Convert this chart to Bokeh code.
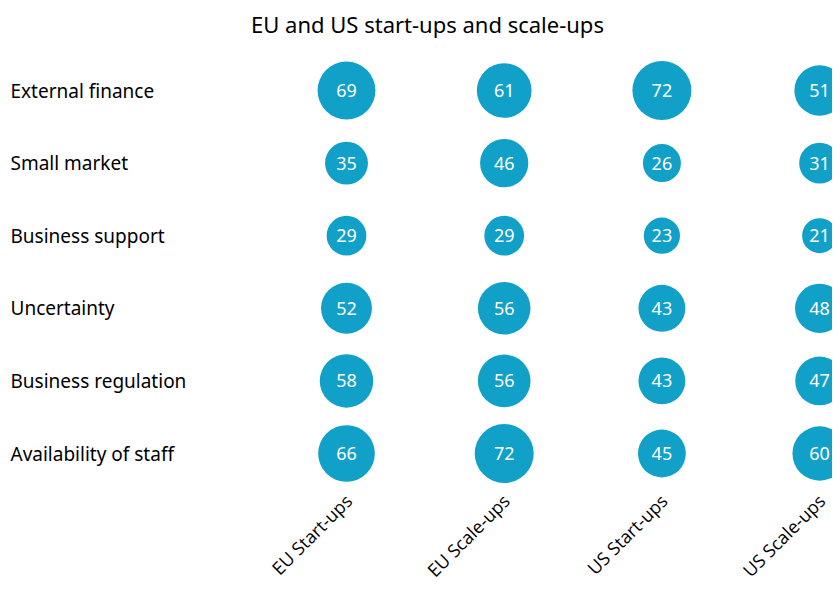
import math
from bokeh.plotting import figure
from bokeh.models import ColumnDataSource, Range1d
from bokeh.core.properties import value
from bokeh.embed import file_html
from bokeh.resources import INLINE

title = "EU and US start-ups and scale-ups"
categories = ["External finance", "Small market", "Business support",
              "Uncertainty", "Business regulation", "Availability of staff"]
groups = ["EU Start-ups", "EU Scale-ups", "US Start-ups", "US Scale-ups"]
eu_startups = [69, 35, 29, 52, 58, 66]
eu_scaleups = [61, 46, 29, 56, 56, 72]
us_startups = [72, 26, 23, 43, 43, 45]
us_scaleups = [51, 31, 21, 48, 47, 60]
series = [eu_startups, eu_scaleups, us_startups, us_scaleups]

# canvas geometry (pixels)
W, H = 832, 582
COL0, COLW = 346.0, 157.7     # first column centre, column spacing
ROW0, ROWH = 90.0, 72.6       # first row centre, row spacing
MIN_D, MAX_D = 35.0, 59.0     # bubble diameters for min / max value


def px_x(px):
    return (px - COL0) / COLW


def px_y(py):
    return (py - ROW0) / ROWH


allv = [v for s in series for v in s]
vmin, vmax = min(allv), max(allv)

xs, ys, sizes, txt = [], [], [], []
for gi, s in enumerate(series):
    for ri, v in enumerate(s):
        xs.append(gi)
        ys.append(ri)
        pos = (v - vmin) / (vmax - vmin)
        sizes.append(math.sqrt(MIN_D ** 2 + pos * (MAX_D ** 2 - MIN_D ** 2)))
        txt.append(str(v))

src = ColumnDataSource(dict(x=xs, y=ys, size=sizes, label=txt))

p = figure(width=W, height=H, output_backend="svg", toolbar_location=None,
           x_range=Range1d(px_x(0), px_x(W)),
           y_range=Range1d(px_y(H), px_y(0)), min_border=0)
p.outline_line_color = None
p.grid.visible = False
p.axis.visible = False
p.background_fill_color = "#ffffff"
p.border_fill_color = "#ffffff"

# bubbles
p.scatter("x", "y", size="size", source=src, fill_color="#11a0c8",
          line_color="#11a0c8", line_width=0)
p.text("x", "y", text="label", source=src, text_align="center",
       text_baseline="middle", text_color="#ffffff",
       text_font=value("Noto Sans"), text_font_size="18px")

# title
p.text(x=[px_x(427)], y=[px_y(23)], text=[title], text_align="center",
       text_baseline="middle", text_color="#000000",
       text_font=value("Noto Sans"), text_font_size="22px")

# row labels
p.text(x=[px_x(10)] * len(categories), y=list(range(len(categories))),
       text=categories, text_align="left", text_baseline="middle",
       text_color="#000000", text_font=value("Noto Sans"),
       text_font_size="19px")

# column labels (rotated)
p.text(x=list(range(len(groups))), y=[px_y(497)] * len(groups), text=groups,
       x_offset=2, angle=math.pi / 4, text_align="right",
       text_baseline="middle", text_color="#000000",
       text_font=value("Open Sans"), text_font_size="18px")

open("out.html", "w").write(file_html(p, INLINE))
